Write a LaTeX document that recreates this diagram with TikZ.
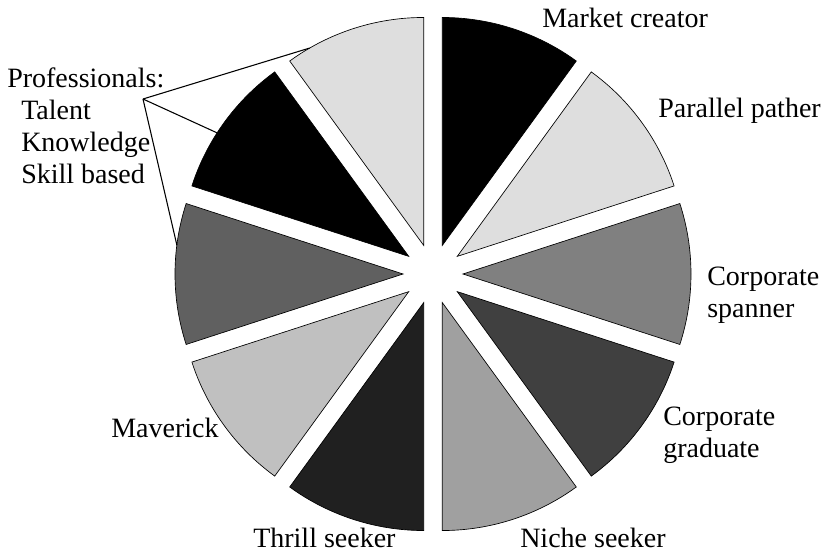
\documentclass[tikz,border=0pt]{standalone}
\usepackage{fontspec}
\setmainfont{Liberation Serif}

\begin{document}
\begin{tikzpicture}[x=0.75pt,y=0.75pt,yscale=-1,xscale=1,
    slice/.style={draw=black,line width=0.5pt,line join=miter},
    callout/.style={draw=black,line width=0.8pt},
    lbl/.style={anchor=base west,inner sep=0pt,align=left,font=\fontsize{21}{24}\selectfont}]
        \useasboundingbox (0,0) rectangle (826,554);
        %each slice pushed out by 30 from the centre (433,274), radius 228

        %Slice: Market creator
        \draw [slice][fill={rgb, 255:red, 0; green, 0; blue, 0 }] (433,274) ++(-72:30) -- +(-90:228) arc [start angle=-90, end angle=-54, radius=228] -- cycle ;
        %Slice: Parallel pather
        \draw [slice][fill={rgb, 255:red, 222; green, 222; blue, 222 }] (433,274) ++(-36:30) -- +(-54:228) arc [start angle=-54, end angle=-18, radius=228] -- cycle ;
        %Slice: Corporate spanner
        \draw [slice][fill={rgb, 255:red, 128; green, 128; blue, 128 }] (433,274) ++(0:30) -- +(-18:228) arc [start angle=-18, end angle=18, radius=228] -- cycle ;
        %Slice: Corporate graduate
        \draw [slice][fill={rgb, 255:red, 64; green, 64; blue, 64 }] (433,274) ++(36:30) -- +(18:228) arc [start angle=18, end angle=54, radius=228] -- cycle ;
        %Slice: Niche seeker
        \draw [slice][fill={rgb, 255:red, 160; green, 160; blue, 160 }] (433,274) ++(72:30) -- +(54:228) arc [start angle=54, end angle=90, radius=228] -- cycle ;
        %Slice: Thrill seeker
        \draw [slice][fill={rgb, 255:red, 32; green, 32; blue, 32 }] (433,274) ++(108:30) -- +(90:228) arc [start angle=90, end angle=126, radius=228] -- cycle ;
        %Slice: Maverick
        \draw [slice][fill={rgb, 255:red, 192; green, 192; blue, 192 }] (433,274) ++(144:30) -- +(126:228) arc [start angle=126, end angle=162, radius=228] -- cycle ;
        %Slice: Professionals (three)
        \draw [slice][fill={rgb, 255:red, 96; green, 96; blue, 96 }] (433,274) ++(180:30) -- +(162:228) arc [start angle=162, end angle=198, radius=228] -- cycle ;
        \draw [slice][fill={rgb, 255:red, 0; green, 0; blue, 0 }] (433,274) ++(216:30) -- +(198:228) arc [start angle=198, end angle=234, radius=228] -- cycle ;
        \draw [slice][fill={rgb, 255:red, 222; green, 222; blue, 222 }] (433,274) ++(252:30) -- +(234:228) arc [start angle=234, end angle=270, radius=228] -- cycle ;

        %Callout ends on the three arcs
        \coordinate (proftip) at (143,99);
        \path (433,274) ++(180:30) ++(187.3:228) coordinate (arcdark);
        \path (433,274) ++(216:30) ++(212.8:228) coordinate (arcblack);
        \path (433,274) ++(252:30) ++(240:228) coordinate (arclight);
        \draw [callout] (proftip) -- (arclight) ;
        \draw [callout] (proftip) -- (arcblack) ;
        \draw [callout] (proftip) -- (arcdark) ;

        % Text Nodes (multi-line ones sit on their last baseline)
        \node [lbl] (mktcreator) at (542,27) {Market creator};
        \node [lbl] (parpather) at (658,117) {Parallel pather};
        \node [lbl] (corpspanner) at (707,317) {Corporate\\spanner};
        \node [lbl] (corpgrad) at (663,457) {Corporate\\graduate};
        \node [lbl] (nicheseeker) at (520,547) {Niche seeker};
        \node [lbl] (thrillseeker) at (253,547) {Thrill seeker};
        \node [lbl] (maverick) at (111,437) {Maverick};
        \node [lbl] (professionals) at (7,183) {Professionals:\\\hspace*{10.5pt}Talent\\\hspace*{10.5pt}Knowledge\\\hspace*{10.5pt}Skill based};

\end{tikzpicture}
\end{document}
